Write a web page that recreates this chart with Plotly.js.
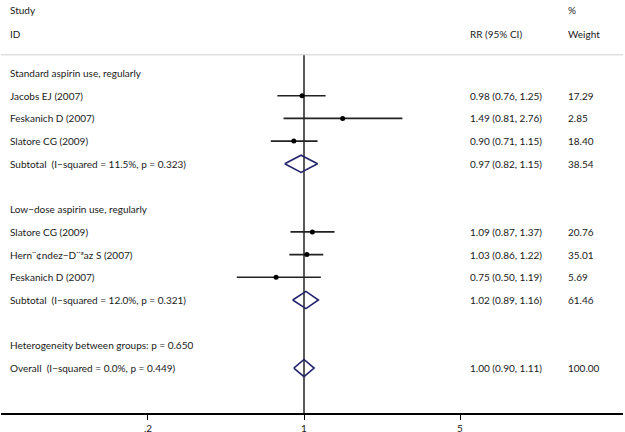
<!DOCTYPE html>
<html>
<head>
<meta charset="utf-8">
<script src="https://cdn.plot.ly/plotly-3.0.1.min.js"></script>
<style>html,body{margin:0;padding:0;background:#fff}#chart{width:625px;height:432px}</style>
</head>
<body>
<div id="chart"></div>
<script>
// ---- data ----
const group1Label = "Standard aspirin use, regularly";
const group1Studies = ["Jacobs EJ (2007)", "Feskanich D (2007)", "Slatore CG (2009)"];
const group1RR = [0.98, 1.49, 0.90];
const group1Lo = [0.76, 0.81, 0.71];
const group1Hi = [1.25, 2.76, 1.15];
const group1W = [17.29, 2.85, 18.40];
const sub1Label = "Subtotal  (I\u2212squared = 11.5%, p = 0.323)";
const sub1 = [0.97, 0.82, 1.15];
const sub1W = 38.54;

const group2Label = "Low\u2212dose aspirin use, regularly";
const group2Studies = ["Slatore CG (2009)", "Hern\u00a8\u00a2ndez\u2212D\u00a8\u00aaaz S (2007)", "Feskanich D (2007)"];
const group2RR = [1.09, 1.03, 0.75];
const group2Lo = [0.87, 0.86, 0.50];
const group2Hi = [1.37, 1.22, 1.19];
const group2W = [20.76, 35.01, 5.69];
const sub2Label = "Subtotal  (I\u2212squared = 12.0%, p = 0.321)";
const sub2 = [1.02, 0.89, 1.16];
const sub2W = 61.46;

const hetLabel = "Heterogeneity between groups: p = 0.650";
const overallLabel = "Overall  (I\u2212squared = 0.0%, p = 0.449)";
const overall = [1.00, 0.90, 1.11];
const overallW = 100.00;

const tickVals = [0.2, 1, 5];
const tickText = [".2", "1", "5"];

// ---- layout helpers ----
const W = 625, H = 432;
const ML = 1, MR = 2, MT = 0, MB = 19;
const plotW = W - ML - MR;
const pxPerDec = 223.2;
const xOnePx = 304;
const xr = [-(xOnePx - ML) / pxPerDec, (W - MR - xOnePx) / pxPerDec];
const rowPx = 22.7, row0Px = 73;
const yr = [(H - MB - row0Px) / rowPx, -(row0Px - MT) / rowPx];
const px2paper = p => (p - ML) / plotW;

const fontFam = "Lato, 'Open Sans', sans-serif";
const txtColor = "#1a1a1a";
const fs = 10;
const colLabel = 8, colCI = 468, colW = 566;
const diamondColor = "#24246e";

const fmt = v => v.toFixed(2);
const ciText = a => fmt(a[0]) + " (" + fmt(a[1]) + ", " + fmt(a[2]) + ")";

const traces = [];
const annotations = [];
function addText(str, xpx, row) {
  annotations.push({text: str, x: px2paper(xpx), xref: "paper", y: row, yref: "y",
    xanchor: "left", yanchor: "middle", showarrow: false,
    font: {family: fontFam, size: fs, color: txtColor}});
}
function addStudy(label, rr, lo, hi, w, row) {
  traces.push({x: [lo, hi], y: [row, row], mode: "lines", line: {color: "#222", width: 1.6},
    hoverinfo: "skip", showlegend: false, type: "scatter"});
  traces.push({x: [rr], y: [row], mode: "markers", marker: {color: "#000", size: 5},
    hoverinfo: "skip", showlegend: false, type: "scatter"});
  addText(label, colLabel, row);
  addText(ciText([rr, lo, hi]), colCI, row);
  addText(fmt(w), colW, row);
}
function addDiamond(label, est, w, row) {
  const h = 0.38;
  traces.push({x: [est[1], est[0], est[2], est[0], est[1]], y: [row, row - h, row, row + h, row],
    mode: "lines", line: {color: diamondColor, width: 1.6}, hoverinfo: "skip", showlegend: false, type: "scatter"});
  addText(label, colLabel, row);
  addText(ciText(est), colCI, row);
  addText(fmt(w), colW, row);
}

// reference line at 1
traces.push({x: [1, 1], y: [-0.8, yr[0]], mode: "lines", line: {color: "#000", width: 1.3},
  hoverinfo: "skip", showlegend: false, type: "scatter"});

// header
addText("Study", colLabel, -2.78);
addText("ID", colLabel, -1.72);
addText("%", colW, -2.78);
addText("RR (95% CI)", colCI, -1.72);
addText("Weight", colW, -1.72);

let r = 0;
addText(group1Label, colLabel, r); r++;
for (let i = 0; i < group1Studies.length; i++) { addStudy(group1Studies[i], group1RR[i], group1Lo[i], group1Hi[i], group1W[i], r); r++; }
addDiamond(sub1Label, sub1, sub1W, r); r += 2;
addText(group2Label, colLabel, r); r++;
for (let i = 0; i < group2Studies.length; i++) { addStudy(group2Studies[i], group2RR[i], group2Lo[i], group2Hi[i], group2W[i], r); r++; }
addDiamond(sub2Label, sub2, sub2W, r); r += 2;
addText(hetLabel, colLabel, r); r++;
addDiamond(overallLabel, overall, overallW, r);

const layout = {
  width: W, height: H,
  margin: {l: ML, r: MR, t: MT, b: MB, pad: 0},
  paper_bgcolor: "#fff", plot_bgcolor: "#fff",
  showlegend: false,
  xaxis: {type: "log", range: xr, tickvals: tickVals, ticktext: tickText,
    ticks: "outside", ticklen: 5, tickwidth: 1, tickcolor: "#000",
    showline: true, linecolor: "#000", linewidth: 1.5, showgrid: false, zeroline: false,
    tickfont: {family: fontFam, size: fs, color: txtColor}, fixedrange: true},
  yaxis: {range: yr, visible: false, showgrid: false, zeroline: false, fixedrange: true},
  shapes: [{type: "line", xref: "paper", x0: 0, x1: 1, yref: "y", y0: -0.8, y1: -0.8,
    line: {color: "#d0d0d0", width: 1}}],
  annotations: annotations
};

Plotly.newPlot("chart", traces, layout, {displayModeBar: false, staticPlot: true});
</script>
</body>
</html>
